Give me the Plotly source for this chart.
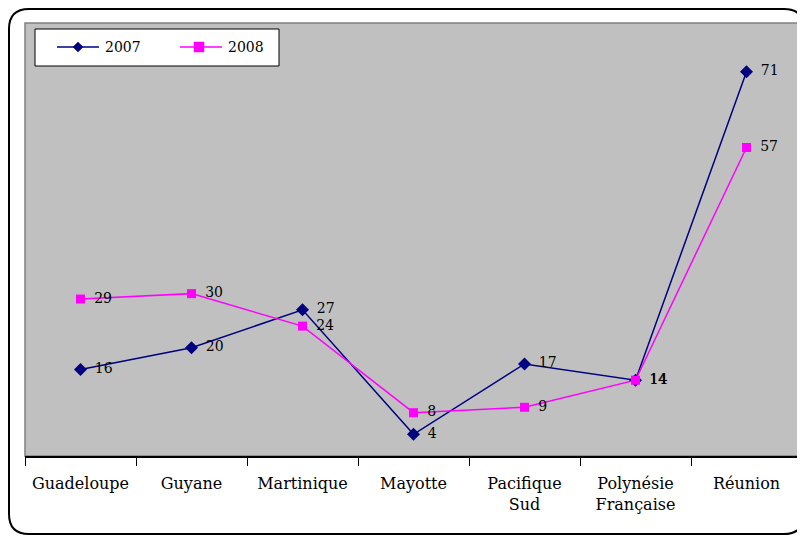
import plotly.graph_objects as go

categories = ["Guadeloupe", "Guyane", "Martinique", "Mayotte", "Pacifique<br>Sud", "Polynésie<br>Française", "Réunion"]
values_2007 = [16, 20, 27, 4, 17, 14, 71]
values_2008 = [29, 30, 24, 8, 9, 14, 57]
series_names = ["2007", "2008"]
series_colors = ["#000080", "#FF00FF"]

# page has an 8px body margin; all pixel positions below are screen coords
OFF = 8
W, H = 805 - OFF, 536 - OFF
PL, PR, PT, PB = 25, 802, 23, 456  # plot area on screen
ML, MR, MT, MB = PL - OFF, W - (PR - OFF), PT - OFF, H - (PB - OFF)
pw = W - ML - MR
ph = H - MT - MB

def px(x):
    return (x - OFF - ML) / pw

def py(y):
    return (H - MB - (y - OFF)) / ph

font_family = "DejaVu Serif, serif"
pad = "\u2002"

fig = go.Figure()
fig.add_trace(go.Scatter(
    x=categories, y=values_2007, name=series_names[0], mode="lines+markers+text",
    line=dict(color=series_colors[0], width=1.5),
    marker=dict(symbol="diamond", size=10, color=series_colors[0]),
    text=[pad + str(v) for v in values_2007], textposition="middle right",
    textfont=dict(family=font_family, size=14, color="black"),
))
fig.add_trace(go.Scatter(
    x=categories, y=values_2008, name=series_names[1], mode="lines+markers+text",
    line=dict(color=series_colors[1], width=1.5),
    marker=dict(symbol="square", size=9, color=series_colors[1]),
    text=[pad + str(v) for v in values_2008], textposition="middle right",
    textfont=dict(family=font_family, size=14, color="black"),
))

def P(x, y):
    return f"{px(x):.5f},{py(y):.5f}"

# rounded outer border
x0, y0, x1, y1, r = 9, 9, 804, 534, 20
path = (f"M {P(x0 + r, y0)} L {P(x1 - r, y0)} Q {P(x1, y0)} {P(x1, y0 + r)} "
        f"L {P(x1, y1 - r)} Q {P(x1, y1)} {P(x1 - r, y1)} "
        f"L {P(x0 + r, y1)} Q {P(x0, y1)} {P(x0, y1 - r)} "
        f"L {P(x0, y0 + r)} Q {P(x0, y0)} {P(x0 + r, y0)} Z")

shapes = [
    dict(type="rect", xref="paper", yref="paper", x0=0, y0=0, x1=1, y1=1,
         line=dict(color="#808080", width=1.5), layer="below"),
    dict(type="path", xref="paper", yref="paper", path=path,
         line=dict(color="black", width=2)),
    # legend box
    dict(type="rect", xref="paper", yref="paper", x0=px(35), y0=py(66), x1=px(279), y1=py(29),
         line=dict(color="black", width=1), fillcolor="white"),
]
annotations = []
legend_items = [(57, 99, 78, 103), (180, 222, 199, 226)]
ly = 47
for i, (lx0, lx1, mx, tx) in enumerate(legend_items):
    c = series_colors[i]
    shapes.append(dict(type="line", xref="paper", yref="paper", x0=px(lx0), x1=px(lx1),
                       y0=py(ly), y1=py(ly), line=dict(color=c, width=1.5)))
    if i == 0:
        shapes.append(dict(type="path", xref="paper", yref="paper",
                           path=f"M {P(mx, ly - 5)} L {P(mx + 5, ly)} L {P(mx, ly + 5)} L {P(mx - 5, ly)} Z",
                           fillcolor=c, line=dict(color=c, width=0.5)))
    else:
        shapes.append(dict(type="rect", xref="paper", yref="paper", x0=px(mx - 5), x1=px(mx + 5),
                           y0=py(ly + 5), y1=py(ly - 5), fillcolor=c, line=dict(color=c, width=0.5)))
    annotations.append(dict(xref="paper", yref="paper", x=px(tx), y=py(ly), xanchor="left",
                            yanchor="middle", text=series_names[i], showarrow=False,
                            font=dict(family=font_family, size=14, color="black")))

fig.update_layout(
    width=W, height=H,
    margin=dict(l=ML, r=MR, t=MT, b=MB, autoexpand=False),
    paper_bgcolor="white",
    plot_bgcolor="#C0C0C0",
    font=dict(family=font_family, size=14, color="black"),
    showlegend=False,
    xaxis=dict(
        type="category", showgrid=False, showline=True, linecolor="black", linewidth=1.5,
        ticks="outside", tickson="boundaries", ticklen=8, tickcolor="black",
        tickfont=dict(family=font_family, size=16, color="black"),
        ticklabelstandoff=12,
        range=[-0.5, 6.5], zeroline=False,
    ),
    yaxis=dict(range=[0, 80], visible=False, showgrid=False, zeroline=False),
    shapes=shapes,
    annotations=annotations,
)

fig.write_html("out.html")
